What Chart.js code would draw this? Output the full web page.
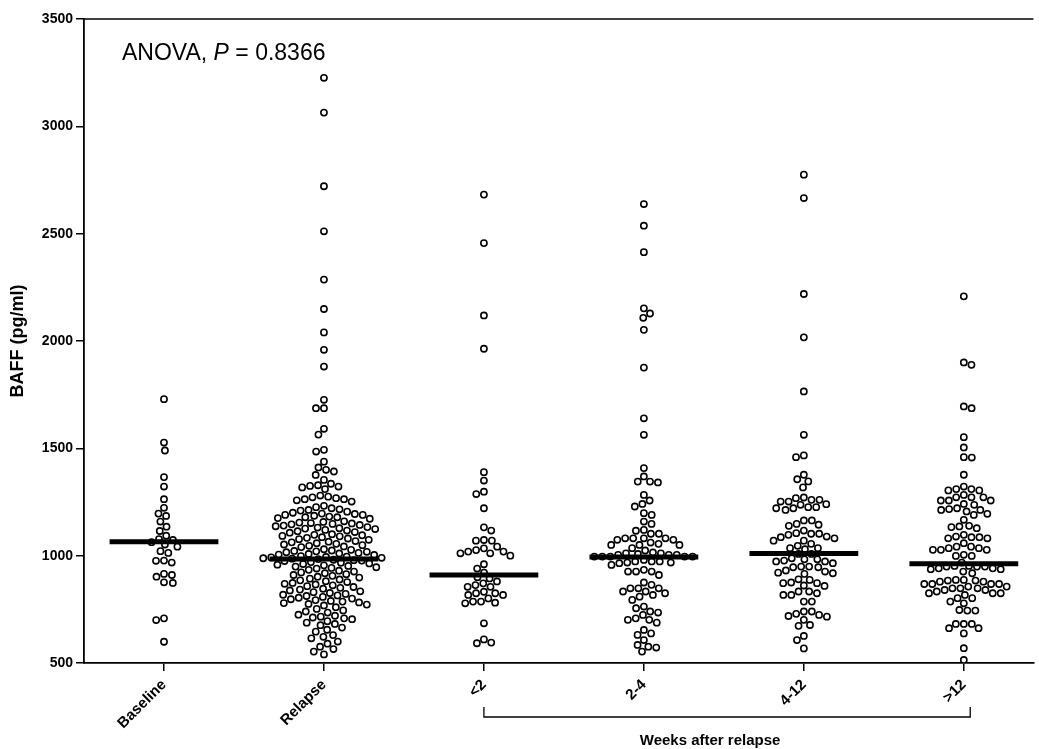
<!DOCTYPE html>
<html>
<head>
<meta charset="utf-8">
<script src="https://cdn.jsdelivr.net/npm/chart.js@4.4.0/dist/chart.umd.min.js"></script>
<style>
  html, body { margin: 0; padding: 0; background: #fff; }
</style>
</head>
<body>
<canvas id="baffChart" width="1039" height="749"></canvas>
<script>
// categories + tick labels
var categories = ['Baseline', 'Relapse', '<2', '2-4', '4-12', '>12'];
var yTicks = [500, 1000, 1500, 2000, 2500, 3000, 3500];

// BAFF values (pg/ml), one array per group
var baseline = [1729,1527,1490,1366,1322,1263,1223,1196,1185,1159,1135,1115,1093,1077,1073,1063,1052,1042,1021,1013,977,976,968,915,910,902,876,873,708,700,599];

var relapse = [3226,3064,2721,2511,2286,2149,2040,1959,1881,1726,1687,1687,1591,1564,1493,1485,1438,
  1411,1400,1392,1376,1353,
  1335,1328,1325,1322,1318,1310,
  1280,1275,1272,1268,1263,1263,1258,1252,
  1232,1226,1221,1216,1213,1210,
  1205,1200,1196,1194,1190,1190,1186,1182,1179,1179,1175,1172,
  1160,1157,1154,1152,1150,1148,1146,1143,1140,1137,
  1133,1131,1128,1126,1124,1120,1117,1114,1110,1107,
  1100,1097,1095,1092,1090,1086,1083,1080,1077,1074,
  1068,1065,1062,1058,1055,1052,1049,1046,1043,1040,
  1030,1027,1024,1022,1020,1018,1016,1013,1010,1008,1005,1003,
  998,996,994,992,990,988,986,984,981,979,977,975,
  970,967,964,961,958,955,952,949,946,943,940,
  934,930,926,922,918,914,910,906,902,898,
  893,889,885,881,877,873,869,866,862,858,854,850,
  846,842,838,834,830,826,822,818,815,812,
  808,804,800,797,793,789,786,782,779,775,772,768,
  760,752,745,740,735,
  725,720,716,712,708,704,
  695,688,682,676,
  665,655,646,
  630,622,615,
  600,590,576,
  565,553,540];

var lt2 = [2682,2456,2119,1964,1389,1350,1298,1287,1221,1132,1117,1073,1070,1070,1042,1034,1026,1019,1019,1011,1011,1000,960,940,921,900,894,880,871,863,855,855,832,825,825,817,817,801,786,786,781,778,685,610,595,592];

var w2to4 = [2638,2537,2414,2152,2128,2108,2052,1876,1640,1563,1408,1369,1345,1345,1341,1283,1257,1241,1229,1198,1190,1159,1148,1120,1116,1102,1102,1081,1081,1081,1081,1074,1074,1061,1055,1050,1050,1050,1035,1024,1015,1011,1011,1008,1004,1004,1004,996,996,996,996,996,980,973,973,973,968,968,965,957,934,926,926,926,910,875,864,848,848,848,833,833,825,817,809,794,763,755,740,735,724,708,701,701,688,654,638,631,607,584,576,572,553];

var w4to12 = [2775,2666,2219,2017,1765,1563,1467,1459,1377,1356,1346,1318,1271,1268,1260,1260,1252,1252,1240,1237,1226,1226,1221,1221,1213,1164,1164,1148,1144,1139,1117,1105,1102,1102,1097,1089,1086,1081,1070,1070,1055,1046,1035,1035,1030,1008,1008,988,983,983,977,973,973,965,949,949,946,946,931,926,921,918,915,890,887,875,872,872,861,859,833,833,825,817,817,786,786,740,740,729,724,719,716,701,677,673,626,607,568];

var gt12 = [2208,1900,1889,1695,1687,1552,1504,1459,1457,1377,1322,1310,1310,1304,1304,1283,1272,1272,1272,1257,1257,1257,1241,1237,1221,1217,1213,1213,1206,1195,1190,1167,1139,1136,1133,1128,1097,1089,1086,1086,1081,1081,1058,1042,1042,1035,1035,1027,1027,1027,1004,999,999,968,952,952,949,949,949,941,941,937,937,926,918,887,887,884,884,879,879,868,868,868,868,856,856,848,848,848,840,840,833,825,825,825,817,802,802,786,778,747,744,744,682,682,682,662,662,638,569,514];

// medians (thick bars) as drawn in the figure
var medians = [1065, 985, 910, 994, 1010, 962];

var groups = [baseline, relapse, lt2, w2to4, w4to12, gt12];

var FONT = '"Liberation Sans", Arial, sans-serif';
var DOT = 8; // collision diameter in px for the swarm layout

// spread points sideways so they don't overlap (simple beeswarm)
function swarm(values, center, xs, ys) {
	var cx = xs.getPixelForValue(center);
	var placed = [];
	var out = new Array(values.length);
	var idx = values.map(function(v, i) { return i; });
	idx.sort(function(a, b) { return values[b] - values[a]; });
	idx.forEach(function(i, n) {
		var py = ys.getPixelForValue(values[i]);
		var near = placed.filter(function(p) { return Math.abs(p.py - py) < DOT; });
		var cands = [0];
		near.forEach(function(p) {
			var dx = Math.sqrt(DOT * DOT - (p.py - py) * (p.py - py));
			cands.push(p.px + dx, p.px - dx);
		});
		var flip = (n % 2) ? -1 : 1;
		cands.sort(function(a, b) {
			var d = Math.abs(a) - Math.abs(b);
			return Math.abs(d) > 0.01 ? d : (b - a) * flip;
		});
		var px = cands.find(function(c) {
			return near.every(function(p) {
				return (p.px - c) * (p.px - c) + (p.py - py) * (p.py - py) >= DOT * DOT - 0.01;
			});
		});
		placed.push({px: px, py: py});
		out[i] = {x: xs.getValueForPixel(cx + px), y: values[i]};
	});
	return out;
}

var datasets = [];
groups.forEach(function(vals, g) {
	datasets.push({
		type: 'scatter',
		label: categories[g],
		data: vals.map(function(v) { return {x: g, y: v}; }),
		pointRadius: 3.1,
		pointBorderWidth: 1.6,
		pointBorderColor: '#000',
		pointBackgroundColor: '#fff',
		order: 1
	});
});
medians.forEach(function(m, g) {
	datasets.push({
		type: 'scatter',
		label: 'median ' + categories[g],
		data: [{x: g - 0.34, y: m}, {x: g + 0.34, y: m}],
		showLine: true,
		borderColor: '#000',
		borderWidth: 5,
		pointRadius: 0,
		order: 0
	});
});

// ANOVA text, top frame, bracket under the week groups
var extras = {
	id: 'extras',
	afterDraw: function(chart) {
		var ctx = chart.ctx, area = chart.chartArea, xs = chart.scales.x;
		ctx.save();
		ctx.strokeStyle = '#000';
		ctx.lineWidth = 1.5;
		ctx.beginPath();
		ctx.moveTo(area.left, area.top);
		ctx.lineTo(area.right, area.top);
		ctx.stroke();

		ctx.fillStyle = '#000';
		ctx.textBaseline = 'alphabetic';
		var x = area.left + 38, y = area.top + 41;
		ctx.font = '23px ' + FONT;
		ctx.fillText('ANOVA, ', x, y);
		x += ctx.measureText('ANOVA, ').width;
		ctx.font = 'italic 23px ' + FONT;
		ctx.fillText('P', x, y);
		x += ctx.measureText('P').width;
		ctx.font = '23px ' + FONT;
		ctx.fillText(' = 0.8366', x, y);

		var bx1 = xs.getPixelForValue(2), bx2 = xs.getPixelForValue(5.04);
		var by = area.bottom + 54;
		ctx.lineWidth = 1.3;
		ctx.beginPath();
		ctx.moveTo(bx1, by - 10);
		ctx.lineTo(bx1, by);
		ctx.lineTo(bx2, by);
		ctx.lineTo(bx2, by - 10);
		ctx.stroke();

		ctx.font = 'bold 15px ' + FONT;
		ctx.textAlign = 'center';
		ctx.fillText('Weeks after relapse', (bx1 + bx2) / 2 - 17, by + 28);
		ctx.restore();
	}
};

var ctx = document.getElementById('baffChart');
var myChart = new Chart(ctx, {
	data: { datasets: datasets },
	options: {
		responsive: false,
		animation: false,
		devicePixelRatio: 1,
		layout: { padding: { top: 19, left: 0, right: 0, bottom: 0 } },
		plugins: {
			legend: { display: false },
			tooltip: { enabled: false }
		},
		scales: {
			x: {
				type: 'linear',
				min: -0.5,
				max: 5.435,
				afterBuildTicks: function(scale) {
					scale.ticks = categories.map(function(c, i) { return {value: i}; });
				},
				afterFit: function(scale) {
					scale.height = 86;
					scale.paddingLeft = 0;
					scale.paddingRight = 0;
				},
				ticks: {
					autoSkip: false,
					minRotation: 45,
					maxRotation: 45,
					padding: 5,
					color: '#000',
					font: { family: FONT, size: 15, weight: 'bold' },
					callback: function(v) { return categories[v]; }
				},
				grid: { drawOnChartArea: false, drawTicks: true, tickLength: 8, color: '#000', lineWidth: 1.5 },
				border: { display: true, color: '#000', width: 1.8 }
			},
			y: {
				type: 'linear',
				min: 500,
				max: 3500,
				afterBuildTicks: function(scale) {
					scale.ticks = yTicks.map(function(v) { return {value: v}; });
				},
				afterFit: function(scale) { scale.width = 84; },
				ticks: {
					padding: 3,
					color: '#000',
					font: { family: FONT, size: 14, weight: 'bold' },
					callback: function(v) { return String(v); }
				},
				title: {
					display: true,
					text: 'BAFF (pg/ml)',
					color: '#000',
					padding: { top: 7, bottom: 0 },
					font: { family: FONT, size: 18, weight: 'bold' }
				},
				grid: { drawOnChartArea: false, drawTicks: true, tickLength: 8, color: '#000', lineWidth: 1.5 },
				border: { display: true, color: '#000', width: 1.8 }
			}
		}
	},
	plugins: [extras]
});

// lay out the swarms once the scales exist
groups.forEach(function(vals, g) {
	myChart.data.datasets[g].data = swarm(vals, g, myChart.scales.x, myChart.scales.y);
});
myChart.update('none');
</script>
</body>
</html>
